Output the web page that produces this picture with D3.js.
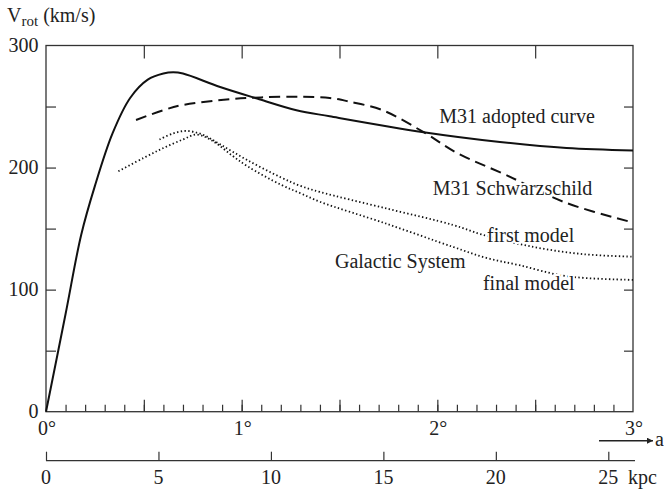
<!doctype html>
<html lang="en">
<head>
    <meta charset="UTF-8">
    <title>Rotation curves</title>
    <script src="https://d3js.org/d3.v7.min.js"></script>
    <style>
        body { margin: 0; background: #fff; }
        svg text { font-family: "Liberation Serif", "Times New Roman", Times, "DejaVu Serif", serif; fill: #222; }
    </style>
</head>
<body>
<div id="chart-area"></div>

<script>
const chartW = 664;
const chartH = 490;

// rotation curves, a (deg) vs V_rot (km/s)
const adoptedDeg = [0, 0.1, 0.18, 0.25, 0.34, 0.43, 0.52, 0.6, 0.65, 0.7, 0.89, 1.09, 1.28, 1.45, 1.93, 2.32, 2.66, 3.0];
const adoptedV   = [0, 80, 145, 185, 228, 257, 272, 277, 278, 277, 266, 256, 247, 242, 229, 221, 216, 214];

const schwDeg = [0.46, 0.6, 0.69, 0.94, 1.1, 1.3, 1.45, 1.55, 1.72, 1.93, 2.1, 2.35, 2.66, 3.0];
const schwV   = [239, 247, 251, 256, 257.5, 258, 257, 254, 247, 229, 212, 194, 171, 155];

const firstDeg = [0.58, 0.65, 0.72, 0.8, 0.89, 1.03, 1.2, 1.3, 1.4, 1.74, 2.08, 2.23, 2.49, 2.75, 3.0];
const firstV   = [223, 228, 230, 227, 219, 206, 192, 185, 180, 166.5, 153, 145, 135, 129, 127];

const finalDeg = [0.37, 0.5, 0.6, 0.7, 0.77, 0.85, 0.95, 1.03, 1.2, 1.3, 1.4, 1.74, 2.08, 2.25, 2.42, 2.66, 3.0];
const finalV   = [197, 208, 216, 223, 227, 222, 210, 201, 186, 179, 172, 154, 135, 126, 120, 111, 108];

const vTicks   = [0, 100, 200, 300];
const degTicks = [0, 1, 2, 3];
const kpcTicks = [0, 5, 10, 15, 20, 25];

// label texts placed at (deg, v)
const labelText = ['M31 adopted curve', 'M31 Schwarzschild', 'first model', 'Galactic System', 'final model'];
const labelDeg  = [2.01, 1.977, 2.254, 1.477, 2.233];
const labelV    = [236.5, 177.5, 139, 118, 99.5];

const pLeft = 46, pRight = 633, pTop = 45.5, pBottom = 411.7;

const svg = d3.select('#chart-area')
    .append('svg')
    .attr('width', chartW)
    .attr('height', chartH)
    .attr('font-family', '"Liberation Serif", "Times New Roman", serif');

const x = d3.scaleLinear().domain([0, 3]).range([pLeft, pRight]);
const y = d3.scaleLinear().domain([0, 300]).range([pBottom, pTop]);
const xk = d3.scaleLinear().domain([0, 25]).range([pLeft, 608.3]);

const axisColor = '#333';

// frame
svg.append('rect')
    .attr('x', pLeft).attr('y', pTop)
    .attr('width', pRight - pLeft).attr('height', pBottom - pTop)
    .attr('fill', 'none')
    .attr('stroke', axisColor)
    .attr('stroke-width', 1.3);

function tickGroup(g) {
    g.select('.domain').remove();
    g.selectAll('.tick line').attr('stroke', axisColor).attr('stroke-width', 1.2);
}

// bottom minor / major ticks (inward)
svg.append('g')
    .attr('transform', `translate(0,${pBottom})`)
    .call(d3.axisBottom(x).tickValues(d3.range(1, 30).map(d => d / 10)).tickSize(-7).tickFormat(''))
    .call(tickGroup);
svg.append('g')
    .attr('transform', `translate(0,${pBottom})`)
    .call(d3.axisBottom(x).tickValues([0.5, 1, 1.5, 2, 2.5]).tickSize(-12).tickFormat(''))
    .call(tickGroup);

// top ticks
svg.append('g')
    .attr('transform', `translate(0,${pTop})`)
    .call(d3.axisTop(x).tickValues([0.5, 1, 1.5, 2, 2.5]).tickSize(-13).tickFormat(''))
    .call(tickGroup);

// left and right ticks
svg.append('g')
    .attr('transform', `translate(${pLeft},0)`)
    .call(d3.axisLeft(y).tickValues([50, 100, 150, 200, 250]).tickSize(-10).tickFormat(''))
    .call(tickGroup);
svg.append('g')
    .attr('transform', `translate(${pRight},0)`)
    .call(d3.axisRight(y).tickValues([50, 100, 150, 200, 250]).tickSize(-9).tickFormat(''))
    .call(tickGroup);

// y tick labels
svg.selectAll('.vlab')
    .data(vTicks)
    .enter().append('text')
    .attr('x', 38.5)
    .attr('y', d => y(d) + 6.5)
    .attr('text-anchor', 'end')
    .attr('font-size', 20)
    .text(d => d);

// degree labels
svg.selectAll('.dlab')
    .data(degTicks)
    .enter().append('text')
    .attr('x', d => x(d) + 1)
    .attr('y', 435)
    .attr('text-anchor', 'middle')
    .attr('font-size', 20)
    .text(d => d + '°');

// y axis title
const title = svg.append('text').attr('x', 7).attr('y', 22).attr('font-size', 20);
title.append('tspan').text('V');
title.append('tspan').attr('dy', 4).attr('font-size', 15).text('rot');
title.append('tspan').attr('dy', -4).text(' (km/s)');

// arrow a
svg.append('defs').append('marker')
    .attr('id', 'arr')
    .attr('viewBox', '0 0 10 10')
    .attr('refX', 10).attr('refY', 5)
    .attr('markerWidth', 11).attr('markerHeight', 6)
    .attr('markerUnits', 'userSpaceOnUse')
    .attr('orient', 'auto')
    .append('path').attr('d', 'M0,0L10,5L0,10Z').attr('fill', '#222');
svg.append('line')
    .attr('x1', 599).attr('x2', 653)
    .attr('y1', 440.7).attr('y2', 440.7)
    .attr('stroke', '#222').attr('stroke-width', 1.4)
    .attr('marker-end', 'url(#arr)');
svg.append('text').attr('x', 655).attr('y', 446).attr('font-size', 20).text('a');

// kpc axis
const kg = svg.append('g')
    .attr('transform', 'translate(0,460.7)')
    .call(d3.axisTop(xk).tickValues(kpcTicks).tickSize(9).tickFormat(''));
kg.select('.domain').remove();
kg.selectAll('.tick line').attr('stroke', axisColor).attr('stroke-width', 1.2);
svg.append('line')
    .attr('x1', xk(0)).attr('x2', 635)
    .attr('y1', 460.7).attr('y2', 460.7)
    .attr('stroke', axisColor).attr('stroke-width', 1.3);
svg.selectAll('.klab')
    .data(kpcTicks)
    .enter().append('text')
    .attr('x', d => xk(d))
    .attr('y', 484)
    .attr('text-anchor', 'middle')
    .attr('font-size', 20)
    .text(d => d);
svg.append('text').attr('x', 628).attr('y', 484).attr('font-size', 20).text('kpc');

// curves
const line = d3.line()
    .x(d => x(d[0]))
    .y(d => y(d[1]))
    .curve(d3.curveCatmullRom.alpha(0.5));

function drawCurve(degs, vals, dash, width) {
    svg.append('path')
        .datum(degs.map((d, i) => [d, vals[i]]))
        .attr('d', line)
        .attr('fill', 'none')
        .attr('stroke', '#111')
        .attr('stroke-width', width)
        .attr('stroke-dasharray', dash);
}

drawCurve(adoptedDeg, adoptedV, null, 2);
drawCurve(schwDeg, schwV, '11,6', 2);
drawCurve(firstDeg, firstV, '1.4,2.4', 1.8);
drawCurve(finalDeg, finalV, '1.4,2.4', 1.8);

// curve labels (white halo breaks the lines like in the print)
svg.selectAll('.clab')
    .data(labelText)
    .enter().append('text')
    .attr('x', (d, i) => x(labelDeg[i]))
    .attr('y', (d, i) => y(labelV[i]))
    .attr('font-size', 20)
    .attr('stroke', '#fff')
    .attr('stroke-width', 4)
    .attr('paint-order', 'stroke')
    .text(d => d);
</script>

</body>
</html>
